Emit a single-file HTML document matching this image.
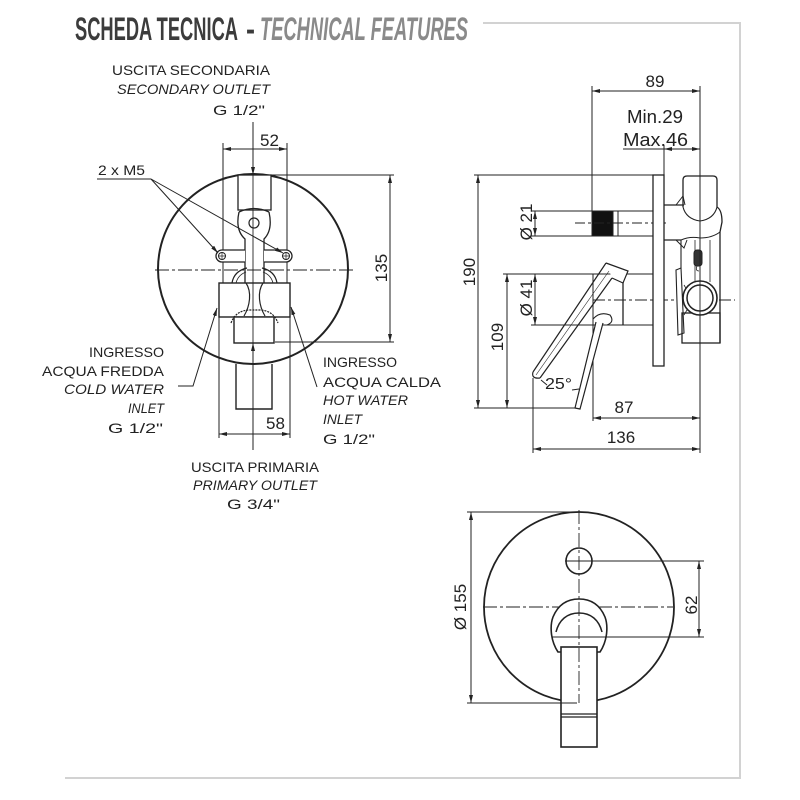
<!DOCTYPE html>
<html><head><meta charset="utf-8"><style>
html,body{margin:0;padding:0;background:#fff;}
svg{display:block;}
text{font-family:"Liberation Sans",sans-serif;fill:#222;}
</style></head><body>
<svg width="800" height="800" viewBox="0 0 800 800" xmlns="http://www.w3.org/2000/svg">
<defs>
<marker id="ar" viewBox="0 0 8 4" refX="8" refY="2" markerWidth="8" markerHeight="4" markerUnits="userSpaceOnUse" orient="auto-start-reverse"><path d="M0,0 L8,2 L0,4 z" fill="#222"/></marker>
</defs>

<!-- Header -->
<text x="75" y="40" font-family="Liberation Sans Narrow, Liberation Sans, sans-serif" font-weight="bold" font-size="32" style="fill:#3c3c3c" textLength="163" lengthAdjust="spacingAndGlyphs">SCHEDA TECNICA</text>
<text x="246" y="40" font-family="Liberation Sans Narrow, Liberation Sans, sans-serif" font-weight="bold" font-size="32" style="fill:#3c3c3c" textLength="9" lengthAdjust="spacingAndGlyphs">-</text>
<text x="260" y="40" font-family="Liberation Sans Narrow, Liberation Sans, sans-serif" font-weight="bold" font-style="italic" font-size="32" style="fill:#8a8a8a" textLength="208" lengthAdjust="spacingAndGlyphs">TECHNICAL FEATURES</text>
<path d="M483,23 L740,23 L740,778 L65,778" stroke="#d2d2d2" stroke-width="2" fill="none"/>

<!-- ============ TOP-LEFT FRONT VIEW ============ -->
<g stroke="#222" fill="none" stroke-width="1">
  <circle cx="253" cy="269" r="95" stroke-width="2"/>
  <line x1="155" y1="270" x2="353" y2="270" stroke-dasharray="14,3,3,3" stroke-width="0.9"/>

  <!-- 52 dim -->
  <line x1="223" y1="149" x2="287" y2="149" marker-start="url(#ar)" marker-end="url(#ar)"/>
  <line x1="223" y1="143" x2="223" y2="283"/>
  <line x1="287" y1="143" x2="287" y2="283"/>

  <!-- 58 dim -->
  <line x1="219" y1="434" x2="290" y2="434" marker-start="url(#ar)" marker-end="url(#ar)"/>
  <line x1="219" y1="317" x2="219" y2="438"/>
  <line x1="290" y1="317" x2="290" y2="438"/>

  <!-- 135 dim -->
  <line x1="255" y1="175" x2="394" y2="175"/>
  <line x1="275" y1="342" x2="394" y2="342"/>
  <line x1="390" y1="175" x2="390" y2="342" marker-start="url(#ar)" marker-end="url(#ar)"/>

  <!-- body -->
  <rect x="238" y="175" width="33" height="35" fill="#fff" stroke-width="1.3"/>
  <path d="M239,212 Q254,205 269,212" stroke-width="1.3"/>
  <path d="M239,212 Q235,230 245,239 L245,283" stroke-width="1.3"/>
  <path d="M269,212 Q273,230 264,239 L264,283" stroke-width="1.3"/>
  <circle cx="254" cy="223" r="5" stroke-width="1.2"/>
  <!-- lugs -->
  <path d="M245,250 L222,250 A6,6 0 0,0 222,262 L245,262" fill="#fff" stroke-width="1.3"/>
  <circle cx="222" cy="256" r="3.5"/>
  <path d="M218,256 L226,256 M222,252 L222,260" stroke-width="0.7"/>
  <path d="M264,250 L286,250 A6,6 0 0,1 286,262 L264,262" fill="#fff" stroke-width="1.3"/>
  <circle cx="286" cy="256" r="3.5"/>
  <path d="M282,256 L290,256 M286,252 L286,260" stroke-width="0.7"/>
  <!-- domes -->
  <path d="M232,283 Q234,271 247,268" stroke-width="1.2"/>
  <path d="M236,283 Q238,275 246,272" stroke-width="0.8"/>
  <path d="M262,268 Q275,271 277,283" stroke-width="1.2"/>
  <path d="M263,272 Q271,275 273,283" stroke-width="0.8"/>
  <!-- block -->
  <rect x="219" y="283" width="71" height="34" stroke-width="1.4"/>
  <path d="M246,283 C252,292 250,306 244,316" stroke-width="1.2"/>
  <path d="M263,283 C257,292 259,306 265,316" stroke-width="1.2"/>
  <path d="M231,323 Q236,310 250,310 L259,310 Q273,310 278,323" stroke-width="1.2" stroke-dasharray="2,1"/>
  <rect x="234" y="317" width="40" height="26" fill="#fff" stroke-width="1.4"/>
  <!-- pipe -->
  <path d="M236,364 L236,409 L272,409 L272,364" stroke-width="1.4"/>

  <!-- center vertical -->
  <line x1="253" y1="122" x2="253" y2="175" marker-end="url(#ar)"/>
  <line x1="253" y1="175" x2="253" y2="343" stroke-width="0.9"/>
  <line x1="253" y1="450" x2="253" y2="343" marker-end="url(#ar)"/>

  <!-- 2 x M5 leaders -->
  <line x1="97" y1="179" x2="151" y2="179"/>
  <line x1="151" y1="179" x2="218" y2="253" marker-end="url(#ar)"/>
  <line x1="151" y1="179" x2="283" y2="253" marker-end="url(#ar)"/>

  <!-- inlet leaders -->
  <polyline points="178,386 193,386 217,308" marker-end="url(#ar)"/>
  <line x1="317" y1="387" x2="291" y2="307" marker-end="url(#ar)"/>
</g>

<text x="112" y="75" font-size="14" textLength="158" lengthAdjust="spacingAndGlyphs">USCITA SECONDARIA</text>
<text x="117" y="94" font-size="14" font-style="italic" textLength="153" lengthAdjust="spacingAndGlyphs">SECONDARY OUTLET</text>
<text x="213" y="115" font-size="14" textLength="52" lengthAdjust="spacingAndGlyphs">G 1/2"</text>
<text x="260" y="146" font-size="17">52</text>
<text x="98" y="175" font-size="14" textLength="47" lengthAdjust="spacingAndGlyphs">2 x M5</text>
<text transform="translate(387,268) rotate(-90)" text-anchor="middle" font-size="17">135</text>
<text x="266" y="429" font-size="17">58</text>

<text x="89" y="357" font-size="14" textLength="75" lengthAdjust="spacingAndGlyphs">INGRESSO</text>
<text x="42" y="376" font-size="14" textLength="122" lengthAdjust="spacingAndGlyphs">ACQUA FREDDA</text>
<text x="64" y="394" font-size="14" font-style="italic" textLength="100" lengthAdjust="spacingAndGlyphs">COLD WATER</text>
<text x="128" y="413" font-size="14" font-style="italic" textLength="36" lengthAdjust="spacingAndGlyphs">INLET</text>
<text x="108" y="433" font-size="14" textLength="55" lengthAdjust="spacingAndGlyphs">G 1/2"</text>

<text x="323" y="367" font-size="14" textLength="74" lengthAdjust="spacingAndGlyphs">INGRESSO</text>
<text x="323" y="387" font-size="14" textLength="118" lengthAdjust="spacingAndGlyphs">ACQUA CALDA</text>
<text x="323" y="405" font-size="14" font-style="italic" textLength="85" lengthAdjust="spacingAndGlyphs">HOT WATER</text>
<text x="323" y="424" font-size="14" font-style="italic" textLength="39" lengthAdjust="spacingAndGlyphs">INLET</text>
<text x="323" y="444" font-size="14" textLength="52" lengthAdjust="spacingAndGlyphs">G 1/2"</text>

<text x="191" y="472" font-size="14" textLength="128" lengthAdjust="spacingAndGlyphs">USCITA PRIMARIA</text>
<text x="193" y="490" font-size="14" font-style="italic" textLength="124" lengthAdjust="spacingAndGlyphs">PRIMARY OUTLET</text>
<text x="227" y="509" font-size="14" textLength="53" lengthAdjust="spacingAndGlyphs">G 3/4"</text>

<!-- ============ RIGHT SIDE VIEW ============ -->
<g stroke="#222" fill="none" stroke-width="1">
  <!-- 89 -->
  <line x1="592" y1="91" x2="700" y2="91" marker-start="url(#ar)" marker-end="url(#ar)"/>
  <line x1="592" y1="86" x2="592" y2="211"/>
  <line x1="700" y1="86" x2="700" y2="453"/>
  <!-- min/max -->
  <line x1="623" y1="149" x2="700" y2="149"/>
  <line x1="690" y1="149" x2="664" y2="149" marker-end="url(#ar)"/>
  <line x1="675" y1="149" x2="700" y2="149" marker-end="url(#ar)"/>
  <line x1="664" y1="145" x2="664" y2="175"/>

  <!-- 190 -->
  <line x1="474" y1="175" x2="653" y2="175"/>
  <line x1="474" y1="408" x2="578" y2="408"/>
  <line x1="478" y1="175" x2="478" y2="408" marker-start="url(#ar)" marker-end="url(#ar)"/>
  <!-- 109 -->
  <line x1="507" y1="274" x2="507" y2="408" marker-start="url(#ar)" marker-end="url(#ar)"/>
  <!-- handle lines -->
  <line x1="503" y1="274" x2="653" y2="274"/>
  <line x1="531" y1="325" x2="653" y2="325"/>
  <line x1="535" y1="274" x2="535" y2="325" marker-start="url(#ar)" marker-end="url(#ar)"/>
  <line x1="593" y1="274" x2="593" y2="421"/>
  <line x1="623" y1="274" x2="623" y2="325" stroke-width="1.3"/>
  <line x1="593" y1="300" x2="735" y2="300" stroke-dasharray="12,3,3,3" stroke-width="0.9"/>

  <!-- rod -->
  <line x1="531" y1="211" x2="653" y2="211"/>
  <line x1="531" y1="236" x2="653" y2="236"/>
  <line x1="535" y1="211" x2="535" y2="236" marker-start="url(#ar)" marker-end="url(#ar)"/>
  <rect x="592" y="211" width="21" height="25" fill="#111"/>
  <line x1="613" y1="211" x2="613" y2="236"/>
  <line x1="618" y1="211" x2="618" y2="236"/>
  <line x1="575" y1="223" x2="666" y2="223" stroke-dasharray="10,3,3,3" stroke-width="0.9"/>

  <!-- plate -->
  <rect x="653" y="175" width="11" height="191" fill="#fff" stroke-width="1.3"/>

  <!-- valve body -->
  <path d="M683,207 L683,180 Q683,176 687,176 L713,176 Q717,176 717,180 L717,207" stroke-width="1.3"/>
  <line x1="664" y1="205" x2="684" y2="205" stroke-width="1.2"/>
  <line x1="664" y1="240" x2="681" y2="240" stroke-width="1.2"/>
  <path d="M717,207 Q722,210 722,222 L720,232 L720,343" stroke-width="1.3"/>
  <path d="M683,207 Q686,219 700,221 Q714,219 717,207" stroke-width="1.1"/>
  <path d="M681,240 Q690,236 700,238 Q712,238 720,232" stroke-width="1"/>
  <path d="M676,205 L683,196 L685,205" stroke-width="1"/>
  <path d="M676,240 L684,248 L687,240" stroke-width="1"/>
  <line x1="681" y1="240" x2="681" y2="268" stroke-width="1.1"/>
  <line x1="695" y1="240" x2="695" y2="282" stroke-width="0.8"/>
  <line x1="710" y1="240" x2="710" y2="282" stroke-width="0.8"/>
  <rect x="694" y="250" width="8" height="16" rx="3" fill="#333"/>
  <path d="M697,266 Q695,271 699,271" stroke-width="0.8"/>
  <path d="M676,270 L681,268 L684,333 L678,335 Z" fill="#fff" stroke-width="1.1"/>
  <path d="M684,285 L690,295 M684,315 L690,305" stroke-width="0.8"/>
  <rect x="682" y="313" width="38" height="30" stroke-width="1.3"/>
  <circle cx="700" cy="298" r="17" fill="#fff" stroke-width="1.6"/>
  <circle cx="700" cy="298" r="13" stroke-width="1.5"/>
  <line x1="700" y1="176" x2="700" y2="343" stroke-width="0.9"/>

  <!-- lever tilted -->
  <path d="M606,263 L628,271 L623,283 L612,278" fill="#fff" stroke-width="1.2"/>
  <line x1="606" y1="263" x2="533" y2="372" stroke-width="1.2"/>
  <line x1="612" y1="278" x2="540" y2="378" stroke-width="1.2"/>
  <line x1="609" y1="271" x2="536" y2="375" stroke-width="0.6"/>
  <path d="M533,372 Q531,379 540,378" stroke-width="1.2"/>
  <!-- lever vertical -->
  <path d="M593,319 Q600,311 610,315 Q615,322 607,325" stroke-width="1.1"/>
  <path d="M596,322 L575,408 L580,409 L603,323" fill="#fff" stroke-width="1.2"/>
  <!-- angle ticks -->
  <path d="M541,380 L547,385" stroke-width="1"/>
  <path d="M572,390 L579,389" stroke-width="1"/>

  <!-- 87, 136 -->
  <line x1="593" y1="418" x2="700" y2="418" marker-start="url(#ar)" marker-end="url(#ar)"/>
  <line x1="533" y1="378" x2="533" y2="453"/>
  <line x1="533" y1="449" x2="700" y2="449" marker-start="url(#ar)" marker-end="url(#ar)"/>
</g>

<text x="655" y="87" font-size="17" text-anchor="middle">89</text>
<text x="627" y="123" font-size="18" textLength="56" lengthAdjust="spacingAndGlyphs">Min.29</text>
<text x="623" y="146" font-size="18" textLength="65" lengthAdjust="spacingAndGlyphs">Max.46</text>
<text transform="translate(475,272) rotate(-90)" text-anchor="middle" font-size="17">190</text>
<text transform="translate(532,222) rotate(-90)" text-anchor="middle" font-size="17">Ø 21</text>
<text transform="translate(532,298) rotate(-90)" text-anchor="middle" font-size="17">Ø 41</text>
<text transform="translate(503,337) rotate(-90)" text-anchor="middle" font-size="17">109</text>
<text x="545" y="389" font-size="16" textLength="27" lengthAdjust="spacingAndGlyphs">25°</text>
<text x="624" y="413" font-size="17" text-anchor="middle">87</text>
<text x="621" y="443" font-size="17" text-anchor="middle">136</text>

<!-- ============ BOTTOM FRONT VIEW ============ -->
<g stroke="#222" fill="none" stroke-width="1">
  <circle cx="579" cy="607" r="95" stroke-width="1.8"/>
  <line x1="483" y1="607" x2="673" y2="607" stroke-dasharray="14,3,3,3" stroke-width="0.9"/>
  <line x1="467" y1="512" x2="579" y2="512"/>
  <line x1="471" y1="512" x2="471" y2="703" marker-start="url(#ar)" marker-end="url(#ar)"/>
  <circle cx="579" cy="561" r="13" stroke-width="1.6"/>
  <line x1="565" y1="561" x2="704" y2="561"/>
  <!-- handle -->
  <path d="M558,652 C550,640 550,625 553,617 C558,605 567,599 579,599 C591,599 600,605 605,617 C608,625 608,640 600,652 Z" fill="#fff" stroke-width="1.6"/>
  <path d="M556,632 C559,620 567,613 579,613 C591,613 599,620 602,632" stroke-width="1.5"/>
  <rect x="561" y="647" width="36" height="100" fill="#fff" stroke-width="1.6"/>
  <line x1="561" y1="714" x2="597" y2="714" stroke-width="1.2"/>
  <line x1="561" y1="717" x2="597" y2="717" stroke-width="1.2"/>
  <line x1="552" y1="637" x2="704" y2="637"/>
  <line x1="699" y1="561" x2="699" y2="637" marker-start="url(#ar)" marker-end="url(#ar)"/>
  <line x1="467" y1="703" x2="577" y2="703"/>
  <line x1="579" y1="510" x2="579" y2="703" stroke-dasharray="14,3,3,3" stroke-width="0.9"/>
</g>
<text transform="translate(466,607) rotate(-90)" text-anchor="middle" font-size="17">Ø 155</text>
<text transform="translate(697,605) rotate(-90)" text-anchor="middle" font-size="17">62</text>
</svg>
</body></html>
